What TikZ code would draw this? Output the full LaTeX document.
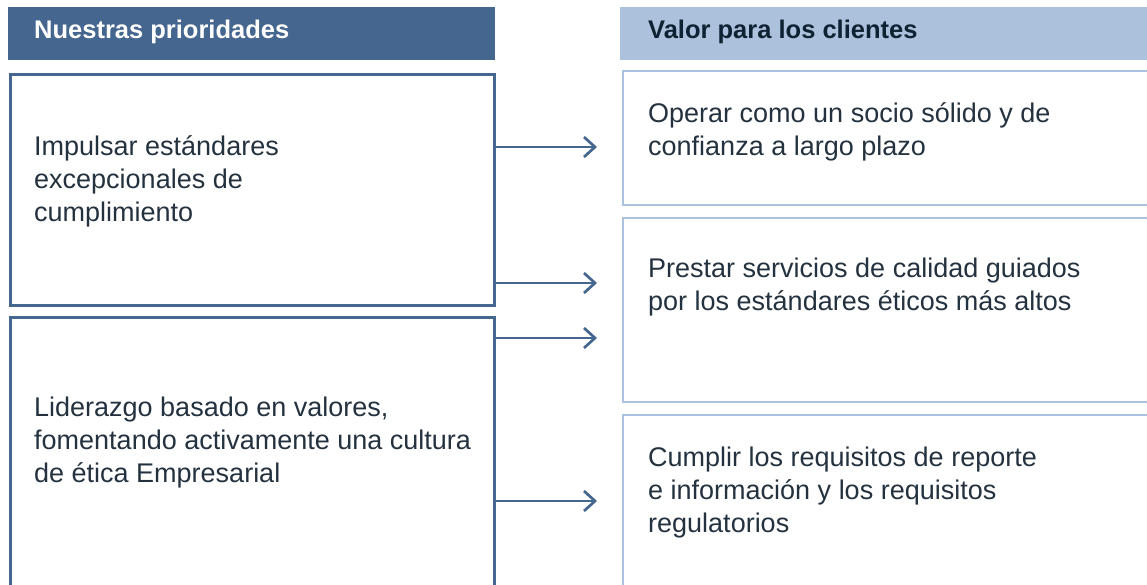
\documentclass[tikz,border=0pt]{standalone}
\usepackage{fontspec}
\setmainfont{Liberation Sans}
\usetikzlibrary{arrows.meta}
\definecolor{darkblue}{HTML}{44668F}
\definecolor{lightblue}{HTML}{ABC1DC}
\definecolor{txt}{HTML}{24323F}
\definecolor{htxt}{HTML}{0F2233}
\tikzset{
  hdrdark/.style={fill=darkblue, draw=none, anchor=north west, inner sep=0pt},
  hdrlight/.style={fill=lightblue, draw=none, anchor=north west, inner sep=0pt},
  leftbox/.style={draw=darkblue, line width=2.5pt, anchor=north west, inner sep=0pt},
  rightbox/.style={draw=lightblue, line width=2.2pt, anchor=north west, inner sep=0pt},
  hdrtext/.style={anchor=west, inner sep=0pt, font=\fontsize{25.5}{30}\selectfont\bfseries},
  bodytext/.style={anchor=west, inner sep=0pt, align=left, text=txt, font=\fontsize{27}{33}\selectfont},
  arr/.style={draw=darkblue, line width=2.7pt, -{Straight Barb[length=11pt,width=20pt]}}
}
\begin{document}
\begin{tikzpicture}[x=1pt,y=-1pt]
\useasboundingbox (0,0) rectangle (1147,585);
% headers
\node[hdrdark, minimum width=487pt, minimum height=53pt] (h1) at (8,7) {};
\node[hdrlight, minimum width=540pt, minimum height=53pt] (h2) at (620,7) {};
\node[hdrtext, text=white] (h1t) at (34,32) {Nuestras prioridades};
\node[hdrtext, text=htxt] (h2t) at (648,32) {Valor para los clientes};
% left boxes
\node[leftbox, minimum width=484pt, minimum height=231pt] (l1) at (9.25,73.25) {};
\node[leftbox, minimum width=484pt, minimum height=300pt] (l2) at (9.25,316.25) {};
% right boxes
\node[rightbox, minimum width=560pt, minimum height=134pt] (r1) at (622,70) {};
\node[rightbox, minimum width=560pt, minimum height=184pt] (r2) at (622,217) {};
\node[rightbox, minimum width=560pt, minimum height=200pt] (r3) at (622,414) {};
% texts
\node[bodytext] (t1) at (34,181) {Impulsar estándares\\excepcionales de\\cumplimiento};
\node[bodytext] (t2) at (34,443) {Liderazgo basado en valores,\\fomentando activamente una cultura\\de ética Empresarial};
\node[bodytext] (t3) at (648,131.5) {Operar como un socio sólido y de\\confianza a largo plazo};
\node[bodytext] (t4) at (648,287) {Prestar servicios de calidad guiados\\por los estándares éticos más altos};
\node[bodytext] (t5) at (648,492.5) {Cumplir los requisitos de reporte\\e información y los requisitos\\regulatorios};
% arrow ends
\coordinate (e1) at (597,147);
\coordinate (e2) at (597,283);
\coordinate (e3) at (597,338);
\coordinate (e4) at (597,501);
\draw[arr] (l1.east |- e1) -- (e1);
\draw[arr] (l1.east |- e2) -- (e2);
\draw[arr] (l2.east |- e3) -- (e3);
\draw[arr] (l2.east |- e4) -- (e4);
\end{tikzpicture}
\end{document}
